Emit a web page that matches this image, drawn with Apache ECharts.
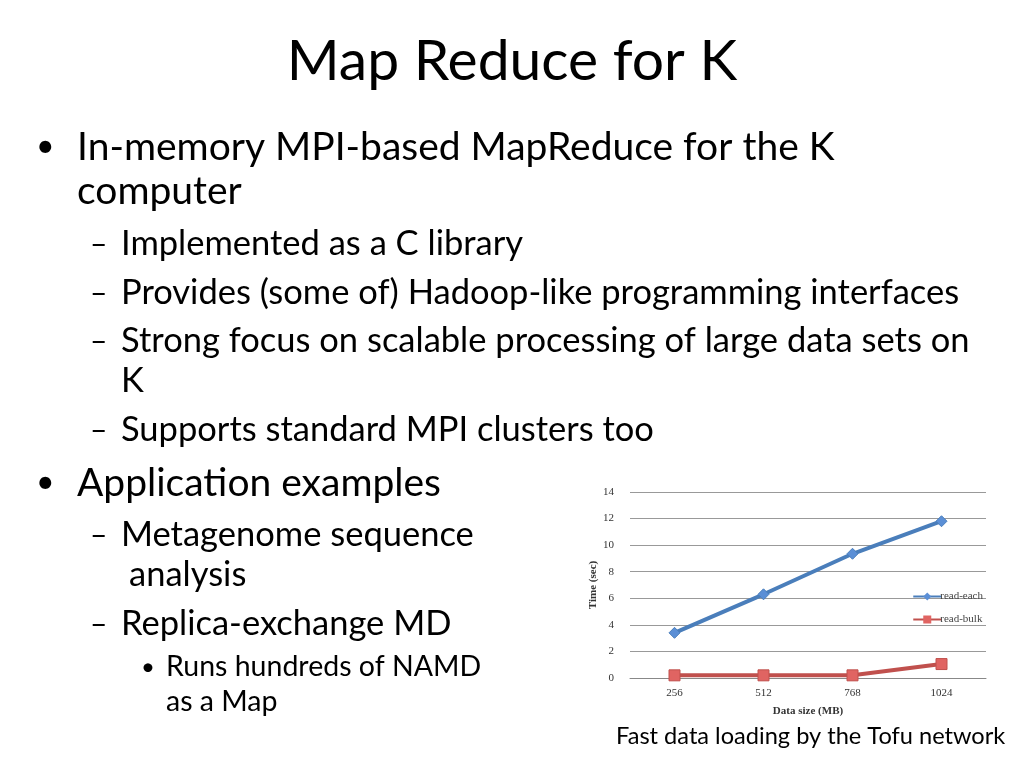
<!DOCTYPE html>
<html><head><meta charset="utf-8">
<script src="https://cdn.jsdelivr.net/npm/echarts@6/dist/echarts.min.js"></script>
<style>html,body{margin:0;padding:0;background:#fff}#c{width:1024px;height:768px}</style>
</head><body><div id="c"></div>
<script>
const categories = ['256', '512', '768', '1024'];
const readEach = [3.4, 6.3, 9.35, 11.8];
const readBulk = [0.2, 0.2, 0.2, 1.05];
const yTicks = [0, 2, 4, 6, 8, 10, 12, 14];

const F = 'Lato, "Open Sans", sans-serif';
function t(text, x, y, size, extra) {
  return Object.assign({type: 'text', x: x, y: y, style: {text: text, font: size + 'px ' + F, fill: '#000', textVerticalAlign: 'middle'}}, extra || {});
}
const lines = [
  {type:'text', x:512, y:62, style:{text:'Map Reduce for K', font:'57px '+F, fill:'#000', textAlign:'center', textVerticalAlign:'middle'}},
  t('•', 36, 147, 32), t('In-memory MPI-based MapReduce for the K', 77, 147, 39),
  t('computer', 77, 191, 39),
  t('–', 90, 244, 30), t('Implemented as a C library', 121, 244, 34.5),
  t('–', 90, 293, 30), t('Provides (some of) Hadoop-like programming interfaces', 121, 293, 34.5),
  t('–', 90, 341, 30), t('Strong focus on scalable processing of large data sets on', 121, 341, 34.5),
  t('K', 121, 381, 34.5),
  t('–', 90, 430, 30), t('Supports standard MPI clusters too', 121, 430, 34.5),
  t('•', 36, 483, 32), t('Application examples', 77, 483, 39),
  t('–', 90, 535, 30), t('Metagenome sequence', 121, 535, 34.5),
  t('analysis', 129, 575, 34.5),
  t('–', 90, 624, 30), t('Replica-exchange MD', 121, 624, 34.5),
  t('•', 141, 667, 24), t('Runs hundreds of NAMD', 166, 667, 28.5),
  t('as a Map', 166, 702, 28.5),
  t('Fast data loading by the Tofu network', 616, 736, 23.6)
];

const chart = echarts.init(document.getElementById('c'));
const serif = '"Liberation Serif", "DejaVu Serif", serif';
chart.setOption({
  animation: false,
  graphic: lines,
  grid: {left: 630, top: 492, width: 356, height: 186},
  legend: {
    orient: 'vertical', right: 36, top: 586, itemGap: 12, itemWidth: 28, itemHeight: 10,
    textStyle: {fontFamily: serif, fontSize: 11, color: '#444', padding: [0,0,0,-6]},
    data: ['read-each', 'read-bulk']
  },
  xAxis: {
    type: 'category', data: categories, boundaryGap: true,
    name: 'Data size (MB)', nameLocation: 'middle', nameGap: 28,
    nameTextStyle: {fontFamily: serif, fontSize: 11, fontWeight: 'bold', color: '#333'},
    axisLine: {lineStyle: {color: '#888'}}, axisTick: {show: false},
    axisLabel: {fontFamily: serif, fontSize: 11, color: '#333', margin: 10}
  },
  yAxis: {
    type: 'value', min: 0, max: 14, interval: 2,
    name: 'Time (sec)', nameLocation: 'middle', nameGap: 30,
    nameTextStyle: {fontFamily: serif, fontSize: 11, fontWeight: 'bold', color: '#333'},
    axisLine: {show: false}, axisTick: {show: false},
    axisLabel: {fontFamily: serif, fontSize: 11, color: '#333', margin: 16, formatter: v => yTicks.includes(v) ? String(v) : ''},
    splitLine: {lineStyle: {color: '#999'}}
  },
  series: [
    {name: 'read-each', type: 'line', data: readEach, symbol: 'diamond', symbolSize: 11,
     lineStyle: {color: '#4a7ebb', width: 4}, itemStyle: {color: '#5b8fd6', borderColor: '#4a7ebb'}},
    {name: 'read-bulk', type: 'line', data: readBulk, symbol: 'rect', symbolSize: 11,
     lineStyle: {color: '#c0504d', width: 4}, itemStyle: {color: '#e06462', borderColor: '#c0504d'}}
  ]
});
</script></body></html>
